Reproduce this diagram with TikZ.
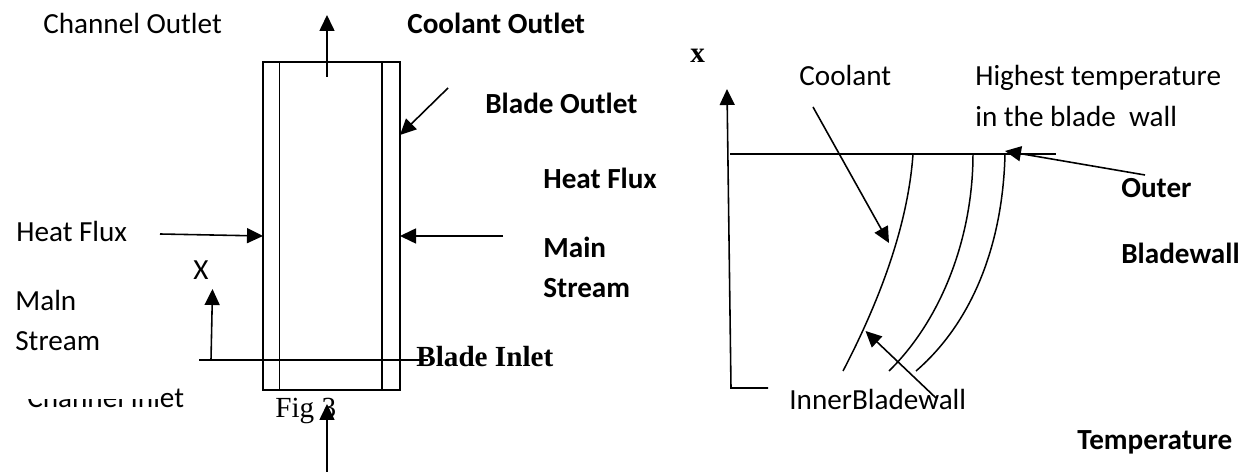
\documentclass[tikz,border=0pt]{standalone}
\usepackage{fontspec}
\setmainfont{Carlito}
\newfontfamily\timesfont{Liberation Serif}
\usetikzlibrary{arrows.meta,positioning}

\begin{document}
\begin{tikzpicture}[
  x=0.02cm,y=-0.02cm,
  label/.style={anchor=base west,inner sep=0pt,font=\fontsize{16.6}{20}\selectfont},
  boldlabel/.style={label,font=\fontsize{16.6}{20}\selectfont\bfseries},
  timeslabel/.style={label,font=\fontsize{16.6}{20}\selectfont\timesfont},
  timesbold/.style={label,font=\fontsize{16.6}{20}\selectfont\timesfont\bfseries},
  blade/.style={rectangle,draw,line width=1pt,inner sep=0pt,outer sep=0pt,minimum width=2.74cm,minimum height=6.56cm},
  wall/.style={line width=0.85pt},
  arrow/.style={-{Triangle[length=3.2mm,width=3mm]},line width=0.9pt}
]
  \useasboundingbox (0,0) rectangle (1248,472);

  % channel
  \node[blade] (b) at (331.5,226) {};
  \coordinate (tl) at (279.5,62);
  \coordinate (bl) at (279.5,390);
  \coordinate (tr) at (382,62);
  \coordinate (br) at (382,390);
  \draw[wall] (tl) -- (bl);
  \draw[wall] (tr) -- (br);

  \node[label] (chout) at (43,34) {Channel Outlet};
  \node[boldlabel] (coout) at (407,34) {Coolant Outlet};
  \node[boldlabel] (blout) at (485,114) {Blade Outlet};
  \node[boldlabel] (hfr) at (543,189) {Heat Flux};
  \node[boldlabel] (mainr) at (543,258) {Main};
  \node[boldlabel] (strr) at (543,298) {Stream};
  \node[label] (hfl) at (16,242) {Heat Flux};
  \node[label] (xl) at (193,280) {X};
  \node[label] (mainl) at (15,311) {Maln};
  \node[label] (strl) at (15,351) {Stream};
  \node[label] (chin) at (27,408) {Channel Inlet};
  \fill[white] (20,380) rectangle (161,399);
  \node[timeslabel] (fig) at (275,418) {Fig 3};
  \node[timesbold] (blin) at (416,367) {Blade Inlet};

  \coordinate (topa) at (327,77);
  \coordinate (topb) at (327,15);
  \coordinate (outa) at (448,88);
  \coordinate (outb) at (400,135);
  \coordinate (hfa) at (160,234);
  \coordinate (hfb) at (263,236);
  \coordinate (msa) at (503,236);
  \coordinate (msb) at (400,236);
  \coordinate (xa) at (211,360);
  \coordinate (xb) at (212.5,289);
  \coordinate (la) at (199,360);
  \coordinate (lb) at (428,360);
  \coordinate (bota) at (327,472);
  \coordinate (botb) at (327,404);
  \draw[arrow] (topa) -- (topb);
  \draw[arrow] (outa) -- (outb);
  \draw[arrow] (hfa) -- (hfb);
  \draw[arrow] (msa) -- (msb);
  \draw[arrow] (xa) -- (xb);
  \draw[wall] (la) -- (lb);
  \draw[arrow] (bota) -- (botb);

  % temperature plot
  \node[timesbold] (xr) at (690,63) {x};
  \node[label] (cool) at (799,86) {Coolant};
  \node[label] (high) at (975,86) {Highest temperature};
  \node[label] (wallt) at (975,127) {in the blade\ \ wall};
  \node[boldlabel] (outer) at (1121,198) {Outer};
  \node[boldlabel] (bwall) at (1121,264) {Bladewall};
  \node[label] (inner) at (789,410) {InnerBladewall};
  \node[boldlabel] (temp) at (1077,450) {Temperature};

  \coordinate (org) at (731,388);
  \coordinate (ya) at (727,89);
  \coordinate (ye) at (768,388);
  \coordinate (ha) at (730,154);
  \coordinate (hb) at (1056,154);
  \coordinate (c1) at (913,154);
  \coordinate (c2) at (973,154);
  \coordinate (c3) at (1005,154);
  \coordinate (e1) at (843,371);
  \coordinate (e2) at (889,371);
  \coordinate (e3) at (916,371);
  \coordinate (ca) at (813,107);
  \coordinate (cb) at (889,243);
  \coordinate (ma) at (1145,175);
  \coordinate (mb) at (1005,151);
  \coordinate (ia) at (936,398);
  \coordinate (ib) at (865.5,331);
  \draw[arrow] (ye) -- (org) -- (ya);
  \draw[wall] (ha) -- (hb);
  \draw[wall] (c1) .. controls (908,225) and (880,300) .. (e1);
  \draw[wall] (c2) .. controls (973,235) and (943,318) .. (e2);
  \draw[wall] (c3) .. controls (1003,240) and (975,320) .. (e3);
  \draw[arrow] (ca) -- (cb);
  \draw[arrow] (ma) -- (mb);
  \draw[arrow] (ia) -- (ib);
\end{tikzpicture}
\end{document}
